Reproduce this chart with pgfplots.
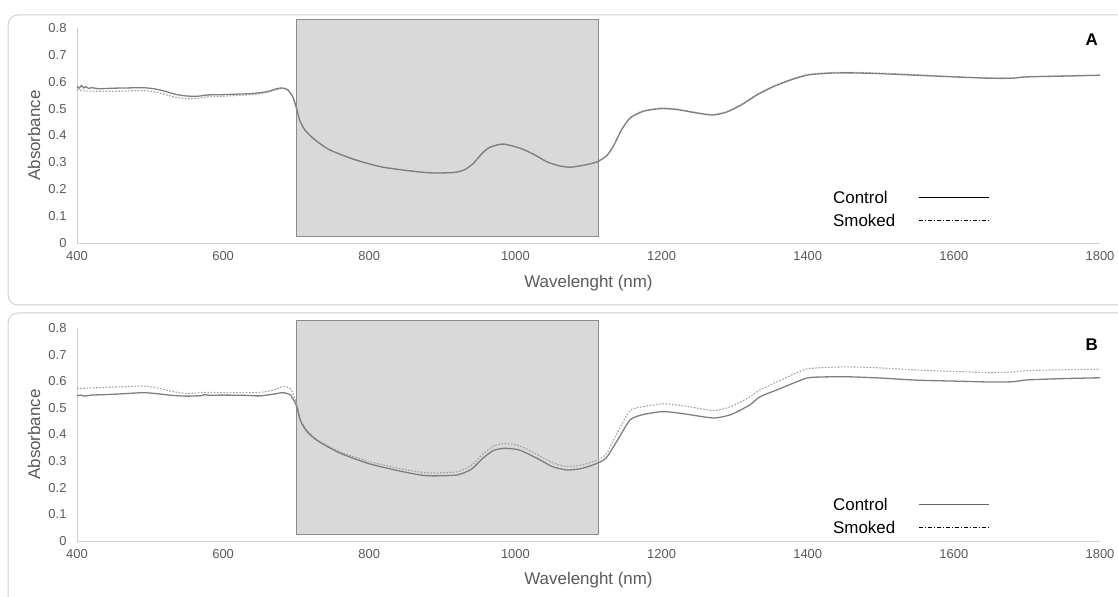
\documentclass[border=0pt]{standalone}
\usepackage{fontspec}
\setmainfont{Liberation Sans}
\usepackage{pgfplots}
\pgfplotsset{compat=1.18}
\definecolor{axisgray}{HTML}{D0D0D0}
\definecolor{tickgray}{HTML}{595959}
\definecolor{framegray}{HTML}{D0D0D0}
\definecolor{rectfill}{HTML}{D9D9D9}
\definecolor{rectdraw}{HTML}{8C8C8C}
\definecolor{ctrl}{HTML}{7F7F7F}
\definecolor{smk}{HTML}{9F9F9F}

\pgfplotstableread{
x y
400 0.583
403 0.576
406 0.586
409 0.577
412 0.582
416 0.575
420 0.578
430 0.574
450 0.576
470 0.577
490 0.578
505 0.574
520 0.565
535 0.553
550 0.547
565 0.546
580 0.551
600 0.552
620 0.554
640 0.556
660 0.563
672 0.573
680 0.577
688 0.571
695 0.545
700 0.505
705 0.455
712 0.420
725 0.385
746 0.346
780 0.310
815 0.284
850 0.270
883 0.261
915 0.262
930 0.272
942 0.295
955 0.335
965 0.356
983 0.368
1006 0.353
1025 0.330
1043 0.302
1060 0.287
1075 0.282
1095 0.290
1112 0.302
1125 0.325
1134 0.360
1145 0.420
1157 0.465
1175 0.490
1198 0.500
1220 0.497
1245 0.485
1270 0.476
1290 0.488
1310 0.515
1330 0.550
1350 0.578
1375 0.605
1400 0.625
1430 0.632
1460 0.633
1500 0.630
1550 0.624
1600 0.618
1650 0.613
1680 0.613
1700 0.618
1750 0.621
1800 0.624
}\ctrlA

\pgfplotstableread{
x y
400 0.570
410 0.566
420 0.565
450 0.564
470 0.566
490 0.567
505 0.563
520 0.553
535 0.542
550 0.537
565 0.538
580 0.544
600 0.546
620 0.549
640 0.552
660 0.560
672 0.570
680 0.575
688 0.570
695 0.545
700 0.505
705 0.456
712 0.421
725 0.386
746 0.347
780 0.311
815 0.285
850 0.271
883 0.262
915 0.263
930 0.273
942 0.296
955 0.336
965 0.357
983 0.369
1006 0.354
1025 0.331
1043 0.303
1060 0.288
1075 0.283
1095 0.291
1112 0.303
1125 0.326
1134 0.361
1145 0.421
1157 0.467
1175 0.492
1198 0.502
1220 0.499
1245 0.487
1270 0.478
1290 0.490
1310 0.517
1330 0.552
1350 0.580
1375 0.607
1400 0.627
1430 0.634
1460 0.635
1500 0.632
1550 0.626
1600 0.619
1650 0.614
1680 0.614
1700 0.619
1750 0.622
1800 0.625
}\smkA

\pgfplotstableread{
x y
400 0.545
405 0.548
410 0.544
420 0.548
450 0.551
490 0.557
510 0.553
530 0.547
550 0.544
570 0.546
575 0.550
580 0.547
600 0.548
630 0.547
650 0.545
670 0.552
682 0.557
692 0.548
700 0.510
706 0.450
715 0.410
730 0.375
760 0.330
800 0.290
850 0.258
880 0.245
920 0.248
940 0.270
955 0.310
970 0.340
985 0.348
1005 0.342
1030 0.310
1050 0.280
1070 0.267
1090 0.272
1113 0.293
1125 0.315
1140 0.380
1157 0.455
1175 0.475
1202 0.486
1230 0.478
1271 0.462
1295 0.475
1320 0.510
1335 0.542
1360 0.570
1385 0.598
1403 0.614
1450 0.617
1500 0.612
1550 0.604
1609 0.600
1650 0.597
1680 0.598
1700 0.605
1750 0.610
1800 0.613
}\ctrlB

\pgfplotstableread{
x y
400 0.572
420 0.575
450 0.578
490 0.582
510 0.575
530 0.562
550 0.554
575 0.558
600 0.557
650 0.558
670 0.568
682 0.580
692 0.572
700 0.520
706 0.455
715 0.415
730 0.378
760 0.335
800 0.298
850 0.268
880 0.256
920 0.260
940 0.285
955 0.325
970 0.357
985 0.366
1005 0.358
1030 0.325
1050 0.295
1070 0.280
1090 0.285
1113 0.305
1125 0.330
1140 0.410
1157 0.490
1175 0.505
1202 0.515
1230 0.508
1271 0.490
1295 0.505
1320 0.540
1335 0.568
1360 0.600
1385 0.632
1403 0.648
1450 0.654
1500 0.650
1550 0.642
1609 0.636
1650 0.632
1680 0.635
1700 0.640
1750 0.643
1800 0.645
}\smkB

\pgfplotsset{
  panel/.style={
    width=1023bp, scale only axis,
    xmin=400, xmax=1800, ymin=0, ymax=0.8,
    clip=false,
    axis x line=bottom, axis y line=left,
    axis line style={draw=axisgray, line width=0.9bp, -},
    major tick length=0pt,
    xtick={400,600,800,1000,1200,1400,1600,1800},
    xticklabels={400,600,800,1000,1200,1400,1600,1800},
    ytick={0,0.1,0.2,0.3,0.4,0.5,0.6,0.7,0.8},
    yticklabels={0,0.1,0.2,0.3,0.4,0.5,0.6,0.7,0.8},
    tick label style={font=\fontsize{13}{15}\selectfont, text=tickgray},
    xticklabel style={yshift=-5bp},
    yticklabel style={xshift=-7bp},
    label style={font=\fontsize{17}{19}\selectfont, text=tickgray},
    xlabel={Wavelenght (nm)},
    ylabel={Absorbance},
    legend style={draw=none, fill=none, anchor=north west,
      font=\fontsize{17}{19}\selectfont, row sep=5bp, inner sep=0pt,
      /tikz/every odd column/.append style={column sep=21bp}},
    legend cell align=left,
    legend plot pos=right,
    legend image code/.code={\draw[##1] (0bp,0bp) -- (70bp,0bp);},
  },
  ctrlstyle/.style={ctrl, line width=1.3bp, smooth, tension=0.4},
  smkstyle/.style={smk, line width=1.1bp, dash pattern=on 1.6bp off 1.6bp, smooth, tension=0.4},
}

\begin{document}
\begin{tikzpicture}[x=1bp,y=1bp]
\useasboundingbox (0,0) rectangle (1118,597);
\draw[framegray, line width=1bp, rounded corners=10bp] (8,292) rectangle (1135,582);
\draw[framegray, line width=1bp, rounded corners=10bp] (8,-30) rectangle (1135,284);

% Panel A
\begin{axis}[panel, at={(77bp,354bp)}, anchor=south west, height=215bp,
  xlabel style={at={(axis description cs:0.5,-0.186)}, anchor=center},
  ylabel style={at={(axis description cs:-0.042,0.5)}, anchor=center},
  legend style={at={(axis description cs:0.737,0.252)}}]
\addplot[fill=rectfill, draw=rectdraw, line width=0.9bp, forget plot] coordinates {(700,0.024) (1113,0.024) (1113,0.83) (700,0.83) (700,0.024)};
\addplot[smkstyle, forget plot] table {\smkA};
\addplot[ctrlstyle, forget plot] table {\ctrlA};
\addlegendimage{black, line width=0.9bp}
\addlegendentry{Control}
\addlegendimage{black, line width=0.9bp, dash pattern=on 4bp off 2bp on 1bp off 2bp}
\addlegendentry{Smoked}
\node[font=\bfseries\fontsize{17}{19}\selectfont, anchor=center] at (axis description cs:0.992,0.944) {A};
\end{axis}

% Panel B
\begin{axis}[panel, at={(77bp,56bp)}, anchor=south west, height=213bp,
  xlabel style={at={(axis description cs:0.5,-0.186)}, anchor=center},
  ylabel style={at={(axis description cs:-0.042,0.5)}, anchor=center},
  legend style={at={(axis description cs:0.737,0.212)}}]
\addplot[fill=rectfill, draw=rectdraw, line width=0.9bp, forget plot] coordinates {(700,0.024) (1113,0.024) (1113,0.83) (700,0.83) (700,0.024)};
\addplot[smkstyle, forget plot] table {\smkB};
\addplot[ctrlstyle, forget plot] table {\ctrlB};
\addlegendimage{black!60, line width=1.1bp}
\addlegendentry{Control}
\addlegendimage{black, line width=0.9bp, dash pattern=on 4bp off 2bp on 1bp off 2bp}
\addlegendentry{Smoked}
\node[font=\bfseries\fontsize{17}{19}\selectfont, anchor=center] at (axis description cs:0.992,0.92) {B};
\end{axis}
\end{tikzpicture}
\end{document}
